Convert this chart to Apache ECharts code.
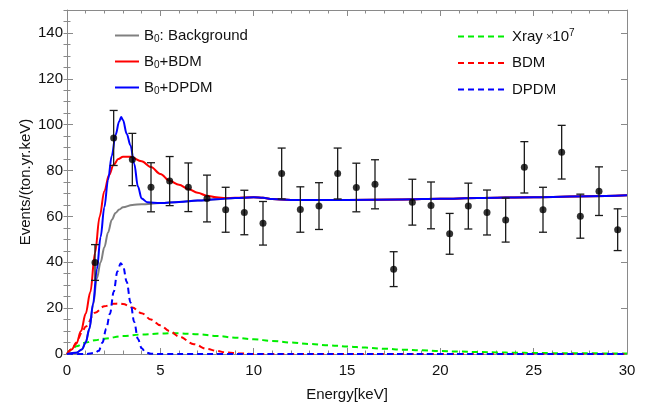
<!DOCTYPE html>
<html><head><meta charset="utf-8">
<script src="https://cdn.jsdelivr.net/npm/echarts@6/dist/echarts.min.js"></script>
<style>html,body{margin:0;padding:0;background:#fff}#c{width:647px;height:407px}</style>
</head><body><div id="c"></div>
<script>
// measured data points (bin centres, rate, half error)
const dataE = [1.5,2.5,3.5,4.5,5.5,6.5,7.5,8.5,9.5,10.5,11.5,12.5,13.5,14.5,15.5,16.5,17.5,18.5,19.5,20.5,21.5,22.5,23.5,24.5,25.5,26.5,27.5,28.5,29.5];
const dataY = [39.9,94.2,84.8,72.7,75.4,72.7,67.8,62.9,61.7,57.0,78.7,63.0,64.5,78.7,72.6,74.0,37.0,66.2,64.8,52.4,64.5,61.7,58.4,81.4,62.9,88.0,60.1,71.0,54.2];
const dataErr = [7.8,12.0,11.4,10.7,10.7,10.6,10.2,9.8,9.7,9.5,11.1,9.9,10.2,11.1,10.6,10.7,7.6,10.0,10.2,8.9,10.0,9.8,9.6,11.2,9.8,11.7,9.6,10.6,9.1];

// B0: Background
const bgX = [0,0.5,0.8,1.0,1.2,1.4,1.6,1.8,2.0,2.2,2.4,2.6,2.8,3.0,3.5,4.0,5,6,7,8,9,10,10.5,11,12,15,18,20,22,25,28,30];
const bgY = [0,0.5,2,5,11,21.5,33,40,46.5,53,58.5,61.5,63,64,65,65.3,65.8,66.3,66.9,67.5,68.0,68.3,68.1,67.6,67.2,67.2,67.4,67.7,68,68.4,68.8,69.2];
// B0+BDM
const bBdmX = [0,0.25,0.5,0.75,1.0,1.25,1.5,1.75,2.0,2.25,2.5,2.75,3.0,3.4,4.0,4.5,5.0,5.5,6.0,6.5,7.0,7.5,8.0,8.5,9,10,10.5,11,12,15,18,20,22,25,28,30];
const bBdmY = [0,2,4.5,10,17.5,27,44,60,71,78,82.5,85,86,86,84,81.5,78.5,75.5,73.8,72,70.3,69,68.3,68,68.1,68.4,68.1,67.6,67.2,67.2,67.4,67.7,68,68.4,68.8,69.2];
// B0+DPDM
const bDpX = [0,0.5,0.8,1.0,1.2,1.4,1.6,1.8,2.0,2.2,2.4,2.6,2.8,2.9,3.0,3.2,3.4,3.6,3.8,4.0,4.3,5,6,7,8,9,10,10.5,11,12,15,18,20,22,25,28,30];
const bDpY = [0,0.5,2,5,11,22,37,51,64,76,86.5,95.5,101.5,103.3,102,96,91,83,73,67.8,66.2,65.8,66.3,66.9,67.5,68.0,68.3,68.1,67.6,67.2,67.2,67.4,67.7,68,68.4,68.8,69.2];
// Xray x 10^7
const xrX = [0,0.27,0.5,1,1.5,2,3,4,5,5.5,6,7,8,9,10,11,12,13,14,15,16,17,18,19,20,21,22,23,24,25,26,27,28,30];
const xrY = [0,2.2,3.4,5,6,6.7,7.8,8.5,8.9,9,9,8.6,7.9,7.1,6.4,5.7,5,4.4,3.8,3.3,2.8,2.3,1.9,1.6,1.3,1.05,0.85,0.7,0.55,0.45,0.38,0.32,0.28,0.22];
// BDM
const bdmX = [0,0.27,0.5,0.8,1.0,1.5,2.0,2.5,2.77,3.0,3.5,4.0,4.5,5.0,5.5,6.0,6.8,7.5,8.0,8.5,9.3,10,20,30];
const bdmY = [0,2.2,5,9.4,12,18,20.8,21.9,22,21.8,20.3,17.8,15,12.5,10,7.6,4.3,2.2,1.4,0.7,0.2,0,0,0];
// DPDM
const dpX = [0,1.0,1.5,1.7,1.9,2.1,2.3,2.5,2.7,2.88,3.0,3.2,3.4,3.6,3.8,4.0,4.2,4.5,5,10,20,30];
const dpY = [0,0,0.5,1.4,5,11,17.5,27,36,39.6,38.5,31.5,22.5,14,6.5,2.5,0.8,0.1,0,0,0,0];

const names = ['B0: Background','B0+BDM','B0+DPDM','Xray','BDM','DPDM'];
const pairs = (xs, ys) => xs.map((x, i) => [x, ys[i]]);

const FONT = '"Liberation Sans", Arial, sans-serif';
const frame = '#8a8a8a';
const chart = echarts.init(document.getElementById('c'), null, {renderer: 'canvas'});

function lineSeries(name, xs, ys, color, dashed, z) {
  return {
    name, type: 'line', data: pairs(xs, ys), symbol: 'none', smooth: 0.35, smoothMonotone: 'x',
    lineStyle: {color, width: 2, type: dashed ? [6, 4] : 'solid'}, itemStyle: {color},
    z, silent: true, animation: false
  };
}

const richStyle = {
  sub: {fontSize: 10, fontFamily: FONT, color: '#111', padding: [7, 0, 0, 0]},
  sup: {fontSize: 10, fontFamily: FONT, color: '#111', padding: [0, 0, 7, 0]},
  x: {fontSize: 11, fontFamily: FONT, color: '#111'}
};

const option = {
  animation: false,
  backgroundColor: '#fff',
  grid: {left: 67, right: 20, top: 10, bottom: 52, containLabel: false},
  legend: [
    {
      data: names.slice(0, 3), orient: 'vertical', left: 109, top: 23,
      itemWidth: 24, itemHeight: 2, itemGap: 10, selectedMode: false,
      itemStyle: {opacity: 0},
      formatter: n => n.replace('B0', 'B{sub|0}'),
      textStyle: {fontSize: 15, fontFamily: FONT, color: '#111', rich: richStyle}
    },
    {
      data: names.slice(3), orient: 'vertical', left: 452, top: 23,
      itemWidth: 49, itemHeight: 2, itemGap: 11.5, selectedMode: false,
      itemStyle: {opacity: 0},
      formatter: n => n === 'Xray' ? 'Xray{x| ×}10{sup|7}' : n,
      textStyle: {fontSize: 15, fontFamily: FONT, color: '#111', rich: richStyle}
    }
  ],
  xAxis: [
    {
      type: 'value', min: 0, max: 30, interval: 5, position: 'bottom',
      name: 'Energy[keV]', nameLocation: 'middle', nameGap: 33, nameMoveOverlap: false,
      nameTextStyle: {fontSize: 15, fontFamily: FONT, color: '#111'},
      axisLine: {show: true, onZero: false, lineStyle: {color: frame, width: 1}},
      axisTick: {show: true, inside: true, length: 6, lineStyle: {color: frame}},
      minorTick: {show: true, splitNumber: 5, length: 3.5, lineStyle: {color: frame}},
      axisLabel: {fontSize: 15, fontFamily: FONT, color: '#111', margin: 9},
      splitLine: {show: false}
    },
    {
      type: 'value', min: 0, max: 30, interval: 5, position: 'top',
      axisLine: {show: true, onZero: false, lineStyle: {color: frame, width: 1}},
      axisTick: {show: true, inside: true, length: 6, lineStyle: {color: frame}},
      minorTick: {show: true, splitNumber: 5, length: 3.5, lineStyle: {color: frame}},
      axisLabel: {show: false}, splitLine: {show: false}
    }
  ],
  yAxis: [
    {
      type: 'value', min: 0, max: 150, interval: 20, position: 'left',
      name: 'Events/(ton.yr.keV)', nameLocation: 'middle', nameGap: 34, nameRotate: 90, nameMoveOverlap: false,
      nameTextStyle: {fontSize: 15, fontFamily: FONT, color: '#111'},
      axisLine: {show: true, onZero: false, lineStyle: {color: frame, width: 1}},
      axisTick: {show: true, inside: true, length: 6, lineStyle: {color: frame}},
      axisLabel: {fontSize: 15, fontFamily: FONT, color: '#111', margin: 4, showMaxLabel: false},
      splitLine: {show: false}
    },
    {
      type: 'value', min: 0, max: 150, interval: 20, position: 'right',
      axisLine: {show: true, onZero: false, lineStyle: {color: frame, width: 1}},
      axisTick: {show: true, inside: true, length: 6, lineStyle: {color: frame}},
      axisLabel: {show: false}, splitLine: {show: false}
    },
    {
      type: 'value', min: 0, max: 150, interval: 5, position: 'left',
      axisLine: {show: false}, axisLabel: {show: false}, splitLine: {show: false},
      axisTick: {show: true, inside: true, length: 3.5, lineStyle: {color: frame}}
    },
    {
      type: 'value', min: 0, max: 150, interval: 5, position: 'right',
      axisLine: {show: false}, axisLabel: {show: false}, splitLine: {show: false},
      axisTick: {show: true, inside: true, length: 3.5, lineStyle: {color: frame}}
    }
  ],
  series: [
    lineSeries(names[3], xrX, xrY, '#00ee00', true, 2),
    lineSeries(names[4], bdmX, bdmY, '#ff0000', true, 3),
    lineSeries(names[5], dpX, dpY, '#0000ff', true, 4),
    lineSeries(names[0], bgX, bgY, '#808080', false, 5),
    lineSeries(names[1], bBdmX, bBdmY, '#ff0000', false, 6),
    lineSeries(names[2], bDpX, bDpY, '#0000ff', false, 7),
    {
      type: 'custom', name: 'err', z: 10, silent: true,
      data: dataE.map((x, i) => [x, dataY[i], dataErr[i]]),
      encode: {x: 0, y: 1},
      renderItem: (params, api) => {
        const x = api.value(0), y = api.value(1), e = api.value(2);
        const t = api.coord([x, y + e]), b = api.coord([x, y - e]);
        const hw = 4, st = {stroke: '#1a1a1a', lineWidth: 1.3};
        return {type: 'group', children: [
          {type: 'line', shape: {x1: t[0], y1: t[1], x2: b[0], y2: b[1]}, style: st},
          {type: 'line', shape: {x1: t[0] - hw, y1: t[1], x2: t[0] + hw, y2: t[1]}, style: st},
          {type: 'line', shape: {x1: b[0] - hw, y1: b[1], x2: b[0] + hw, y2: b[1]}, style: st}
        ]};
      }
    },
    {
      type: 'scatter', name: 'data', z: 11, silent: true,
      data: pairs(dataE, dataY), symbol: 'circle', symbolSize: 7,
      itemStyle: {color: '#000'}
    }
  ]
};
chart.setOption(option);
</script>
</body></html>
